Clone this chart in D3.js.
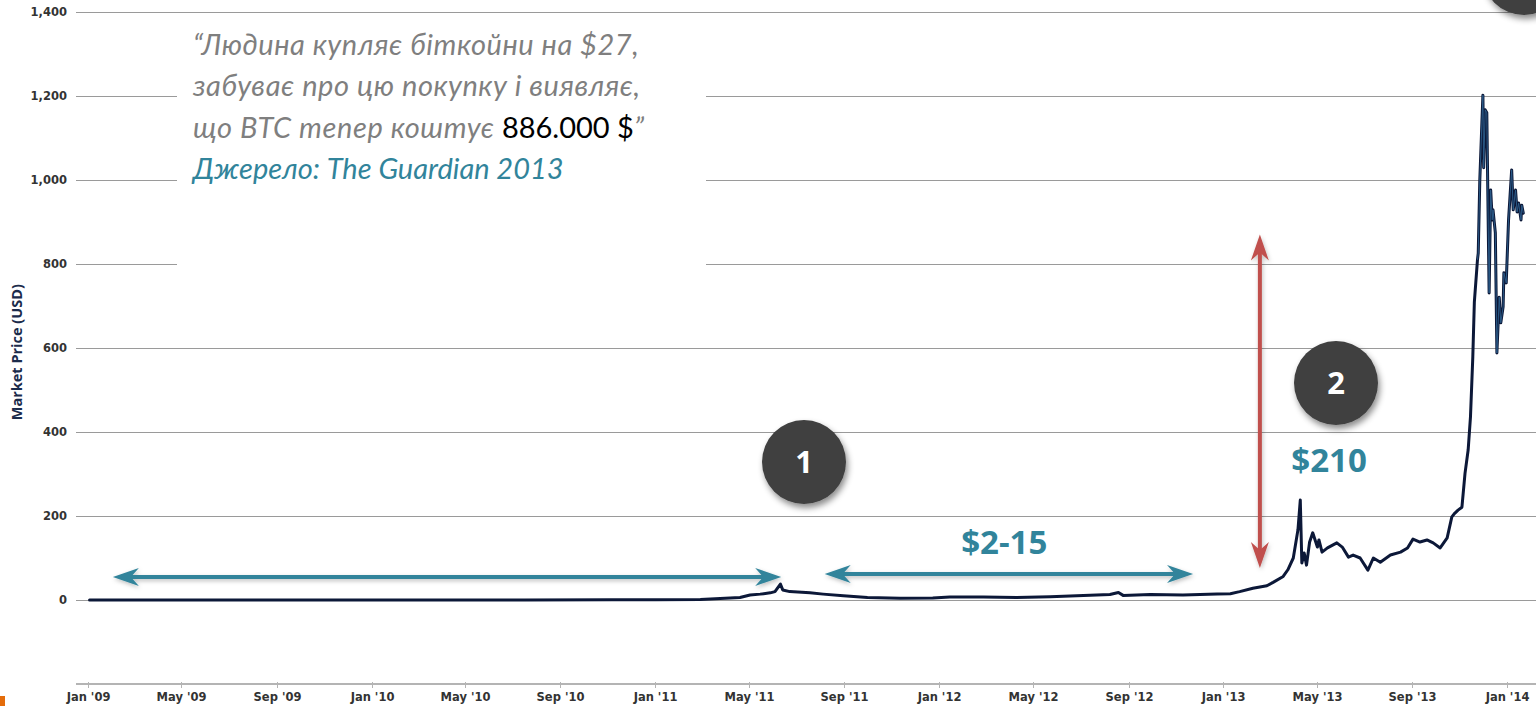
<!DOCTYPE html>
<html>
<head>
<meta charset="utf-8">
<script src="https://cdn.jsdelivr.net/npm/d3@7"></script>
<style>
  html, body { margin: 0; padding: 0; background: #fff; }
  svg { display: block; }
</style>
</head>
<body>
<svg id="chart" width="1536" height="706"></svg>
<script>
// ---- data ----
const priceDates = [
  "2009-01-03","2009-07-01","2010-01-01","2010-07-17","2010-11-06","2011-01-01",
  "2011-02-28","2011-04-20","2011-05-03","2011-05-16","2011-05-29","2011-06-04",
  "2011-06-11","2011-06-14","2011-06-23","2011-07-19","2011-08-05","2011-08-31",
  "2011-10-01","2011-11-12","2011-12-24","2012-01-15","2012-02-27","2012-04-10",
  "2012-05-23","2012-07-05","2012-08-08","2012-08-19","2012-08-25","2012-09-29",
  "2012-11-10","2012-12-24","2013-01-10","2013-01-22","2013-02-08","2013-02-26",
  "2013-03-06","2013-03-19","2013-03-25","2013-04-01","2013-04-07","2013-04-10",
  "2013-04-12","2013-04-15","2013-04-18","2013-04-22","2013-04-26","2013-05-02",
  "2013-05-04","2013-05-08","2013-05-15","2013-05-27","2013-06-03","2013-06-11",
  "2013-06-17","2013-06-26","2013-07-06","2013-07-13","2013-07-22","2013-08-04",
  "2013-08-17","2013-08-26","2013-09-02","2013-09-11","2013-09-20","2013-09-28",
  "2013-10-07","2013-10-16","2013-10-22","2013-10-26","2013-10-30","2013-11-04",
  "2013-11-08","2013-11-12","2013-11-15","2013-11-17","2013-11-18","2013-11-20",
  "2013-11-24","2013-11-25","2013-11-27","2013-12-01","2013-12-02","2013-12-04",
  "2013-12-06","2013-12-09","2013-12-11","2013-12-13","2013-12-14","2013-12-17",
  "2013-12-19","2013-12-22","2013-12-24","2013-12-27","2013-12-28","2013-12-31",
  "2014-01-01","2014-01-03","2014-01-07","2014-01-09","2014-01-12","2014-01-14",
  "2014-01-16","2014-01-19","2014-01-20","2014-01-22"
];
const priceValues = [
  0, 0, 0, 0.06, 0.3, 0.3,
  1, 6, 12, 14, 17, 20,
  38, 24, 20, 17, 14, 10,
  6, 4, 5, 7, 7, 6,
  8, 11, 13, 18, 11, 13,
  12, 14, 15, 20, 28, 34,
  42, 56, 72, 100, 167, 238,
  88, 112, 83, 138, 160, 126,
  143, 114, 124, 136, 126, 102,
  107, 100, 71, 100, 90, 107,
  114, 124, 145, 138, 143, 136,
  124, 148, 198, 207, 214, 221,
  302, 357, 436, 531, 579, 710,
  810, 826, 1000, 1202, 1029, 1167,
  1160, 731, 976, 905, 929, 874,
  588, 721, 660, 698, 779, 755,
  805, 905, 1024, 929, 976, 924,
  945, 905, 940, 921
];
const yTicks = [0, 200, 400, 600, 800, 1000, 1200, 1400];
const xTickDates = ["2009-01-01","2009-05-01","2009-09-01","2010-01-01","2010-05-01","2010-09-01",
  "2011-01-01","2011-05-01","2011-09-01","2012-01-01","2012-05-01","2012-09-01",
  "2013-01-01","2013-05-01","2013-09-01","2014-01-01"];
const xTickLabels = ["Jan '09","May '09","Sep '09","Jan '10","May '10","Sep '10",
  "Jan '11","May '11","Sep '11","Jan '12","May '12","Sep '12",
  "Jan '13","May '13","Sep '13","Jan '14"];
const yAxisTitle = "Market Price (USD)";
const quoteLines = [
  [{t: "“Людина купляє біткойни на $27,", c: "#7f7f7f", i: true}],
  [{t: "забуває про цю покупку і виявляє,", c: "#7f7f7f", i: true}],
  [{t: "що BTC тепер коштує ", c: "#7f7f7f", i: true}, {t: "886.000 $", c: "#000", i: false}, {t: "”", c: "#7f7f7f", i: true}],
  [{t: "Джерело: The Guardian 2013", c: "#31849b", i: true}]
];
// annotations (date range / value)
const hArrows = [
  {from: "2009-02-02", to: "2011-06-12", v: 55},
  {from: "2011-08-07", to: "2012-11-23", v: 62}
];
const vArrow = {date: "2013-02-17", from: 76, to: 870};
const rangeLabels = [
  {text: "$2-15", date: "2012-03-25", v: 110},
  {text: "$210", date: "2013-05-17", v: 305}
];
const badges = [
  {n: "1", cx: 804, cy: 462},
  {n: "2", cx: 1336, cy: 383},
  {n: "", cx: 1524, cy: -27}
];

// ---- chart ----
const parse = d3.timeParse("%Y-%m-%d");
const data = priceDates.map((d, i) => ({date: parse(d), value: priceValues[i]}));

const svg = d3.select("#chart");
const W = 1536, H = 706;
const x = d3.scaleTime().domain([parse("2009-01-01"), parse("2014-01-01")]).range([88, 1507]);
const y = d3.scaleLinear().domain([-200, 1400]).range([684, 12]);

const defs = svg.append("defs");
const sh = defs.append("filter").attr("id", "shadow").attr("x", "-30%").attr("y", "-30%").attr("width", "160%").attr("height", "160%");
sh.append("feDropShadow").attr("dx", 2).attr("dy", 4).attr("stdDeviation", 3).attr("flood-color", "#000").attr("flood-opacity", 0.45);
const sh2 = defs.append("filter").attr("id", "ashadow").attr("x", "-10%").attr("y", "-100%").attr("width", "120%").attr("height", "300%");
sh2.append("feDropShadow").attr("dx", 1).attr("dy", 2).attr("stdDeviation", 2).attr("flood-color", "#000").attr("flood-opacity", 0.25);

// gridlines
svg.append("g").selectAll("line").data(yTicks).join("line")
  .attr("x1", 76).attr("x2", W)
  .attr("y1", d => Math.round(y(d)) + 0.5).attr("y2", d => Math.round(y(d)) + 0.5)
  .attr("stroke", "#9a9a9a").attr("stroke-width", 1);

// y tick labels
svg.append("g").selectAll("text").data(yTicks).join("text")
  .attr("x", 67).attr("y", d => y(d)).attr("dy", "0.35em")
  .attr("text-anchor", "end")
  .attr("font-family", "DejaVu Sans, sans-serif").attr("font-size", 11.5).attr("font-weight", "bold")
  .attr("fill", "#333")
  .text(d3.format(","));

// y axis title
svg.append("text")
  .attr("transform", `translate(22,${y(590)}) rotate(-90)`)
  .attr("text-anchor", "middle")
  .attr("font-family", "Open Sans, sans-serif").attr("font-size", 14.5).attr("font-weight", "bold")
  .attr("fill", "#1b2b4b")
  .text(yAxisTitle);

// x axis
const xAxisY = y(-200);
svg.append("line").attr("x1", 76).attr("x2", W).attr("y1", xAxisY).attr("y2", xAxisY)
  .attr("stroke", "#b4b4b4").attr("stroke-width", 2);
const xt = svg.append("g").selectAll("g").data(xTickDates).join("g")
  .attr("transform", d => `translate(${Math.round(x(parse(d))) + 0.5},0)`);
xt.append("line").attr("y1", xAxisY - 2).attr("y2", xAxisY + 4).attr("stroke", "#b4b4b4");
xt.append("text").attr("y", xAxisY + 17).attr("text-anchor", "middle")
  .attr("font-family", "DejaVu Sans, sans-serif").attr("font-size", 11.5).attr("font-weight", "bold")
  .attr("fill", "#333")
  .text((d, i) => xTickLabels[i]);

// price line
const line = d3.line().x(d => x(d.date)).y(d => y(d.value));
svg.append("path").datum(data).attr("d", line)
  .attr("fill", "none").attr("stroke", "#0c1838").attr("stroke-width", 3)
  .attr("stroke-linejoin", "round").attr("stroke-linecap", "round");
svg.append("path").datum(data.filter(d => d.date >= parse("2013-11-24"))).attr("d", line)
  .attr("fill", "none").attr("stroke", "#2d5f8c").attr("stroke-width", 0.9)
  .attr("stroke-linejoin", "round");

// quote box (white panel over gridlines)
svg.append("rect").attr("x", 177).attr("y", 24).attr("width", 529).attr("height", 266).attr("fill", "#fff");
const q = svg.append("text").attr("font-family", "Lato, sans-serif").attr("font-size", 29);
quoteLines.forEach((ln, i) => {
  const tl = q.append("tspan").attr("x", 193).attr("y", 55 + i * 41.3);
  ln.forEach((seg, j) => {
    const s = j === 0 ? tl : q.append("tspan");
    s.text(seg.t).attr("fill", seg.c).attr("font-style", seg.i ? "italic" : "normal");
    if (seg.c === "#7f7f7f") s.attr("letter-spacing", 0.55);
  });
});

// arrows
const teal = "#31849b";
function headPath(tx, ty, dirx, diry, L, Wd, notch) {
  const px = -diry, py = dirx;
  const bx = tx - dirx * L, by = ty - diry * L;
  const nx = tx - dirx * notch, ny = ty - diry * notch;
  return `M${tx},${ty}L${bx + px * Wd},${by + py * Wd}L${nx},${ny}L${bx - px * Wd},${by - py * Wd}Z`;
}
const ag = svg.append("g").attr("filter", "url(#ashadow)");
hArrows.forEach(a => {
  const x1 = x(parse(a.from)), x2 = x(parse(a.to)), yy = y(a.v);
  ag.append("line").attr("x1", x1 + 15).attr("x2", x2 - 15).attr("y1", yy).attr("y2", yy)
    .attr("stroke", teal).attr("stroke-width", 4);
  ag.append("path").attr("d", headPath(x2, yy, 1, 0, 26, 9, 18)).attr("fill", teal);
  ag.append("path").attr("d", headPath(x1, yy, -1, 0, 26, 9, 18)).attr("fill", teal);
});
{
  const red = "#c0504d";
  const xx = x(parse(vArrow.date)), yb = y(vArrow.from), yt = y(vArrow.to);
  ag.append("line").attr("x1", xx).attr("x2", xx).attr("y1", yt + 15).attr("y2", yb - 15)
    .attr("stroke", red).attr("stroke-width", 4);
  ag.append("path").attr("d", headPath(xx, yt, 0, -1, 26, 9, 18)).attr("fill", red);
  ag.append("path").attr("d", headPath(xx, yb, 0, 1, 26, 9, 18)).attr("fill", red);
}

// range labels
svg.append("g").selectAll("text").data(rangeLabels).join("text")
  .attr("x", d => x(parse(d.date))).attr("y", d => y(d.v))
  .attr("text-anchor", "middle")
  .attr("font-family", "Open Sans, sans-serif").attr("font-weight", "bold").attr("font-size", 33)
  .attr("fill", teal)
  .text(d => d.text);

// numbered badges
const bg = svg.append("g").selectAll("g").data(badges).join("g")
  .attr("transform", d => `translate(${d.cx},${d.cy})`);
bg.append("circle").attr("r", 42).attr("fill", "#404040").attr("filter", "url(#shadow)");
bg.filter(d => d.n).append("text").attr("text-anchor", "middle").attr("dy", "0.36em")
  .attr("font-family", "Open Sans, sans-serif").attr("font-weight", "bold").attr("font-size", 31)
  .attr("fill", "#fff").text(d => d.n);

// orange slide marker bottom-left
svg.append("rect").attr("x", 0).attr("y", 696).attr("width", 5).attr("height", 10).attr("fill", "#e46c0a");
</script>
</body>
</html>
